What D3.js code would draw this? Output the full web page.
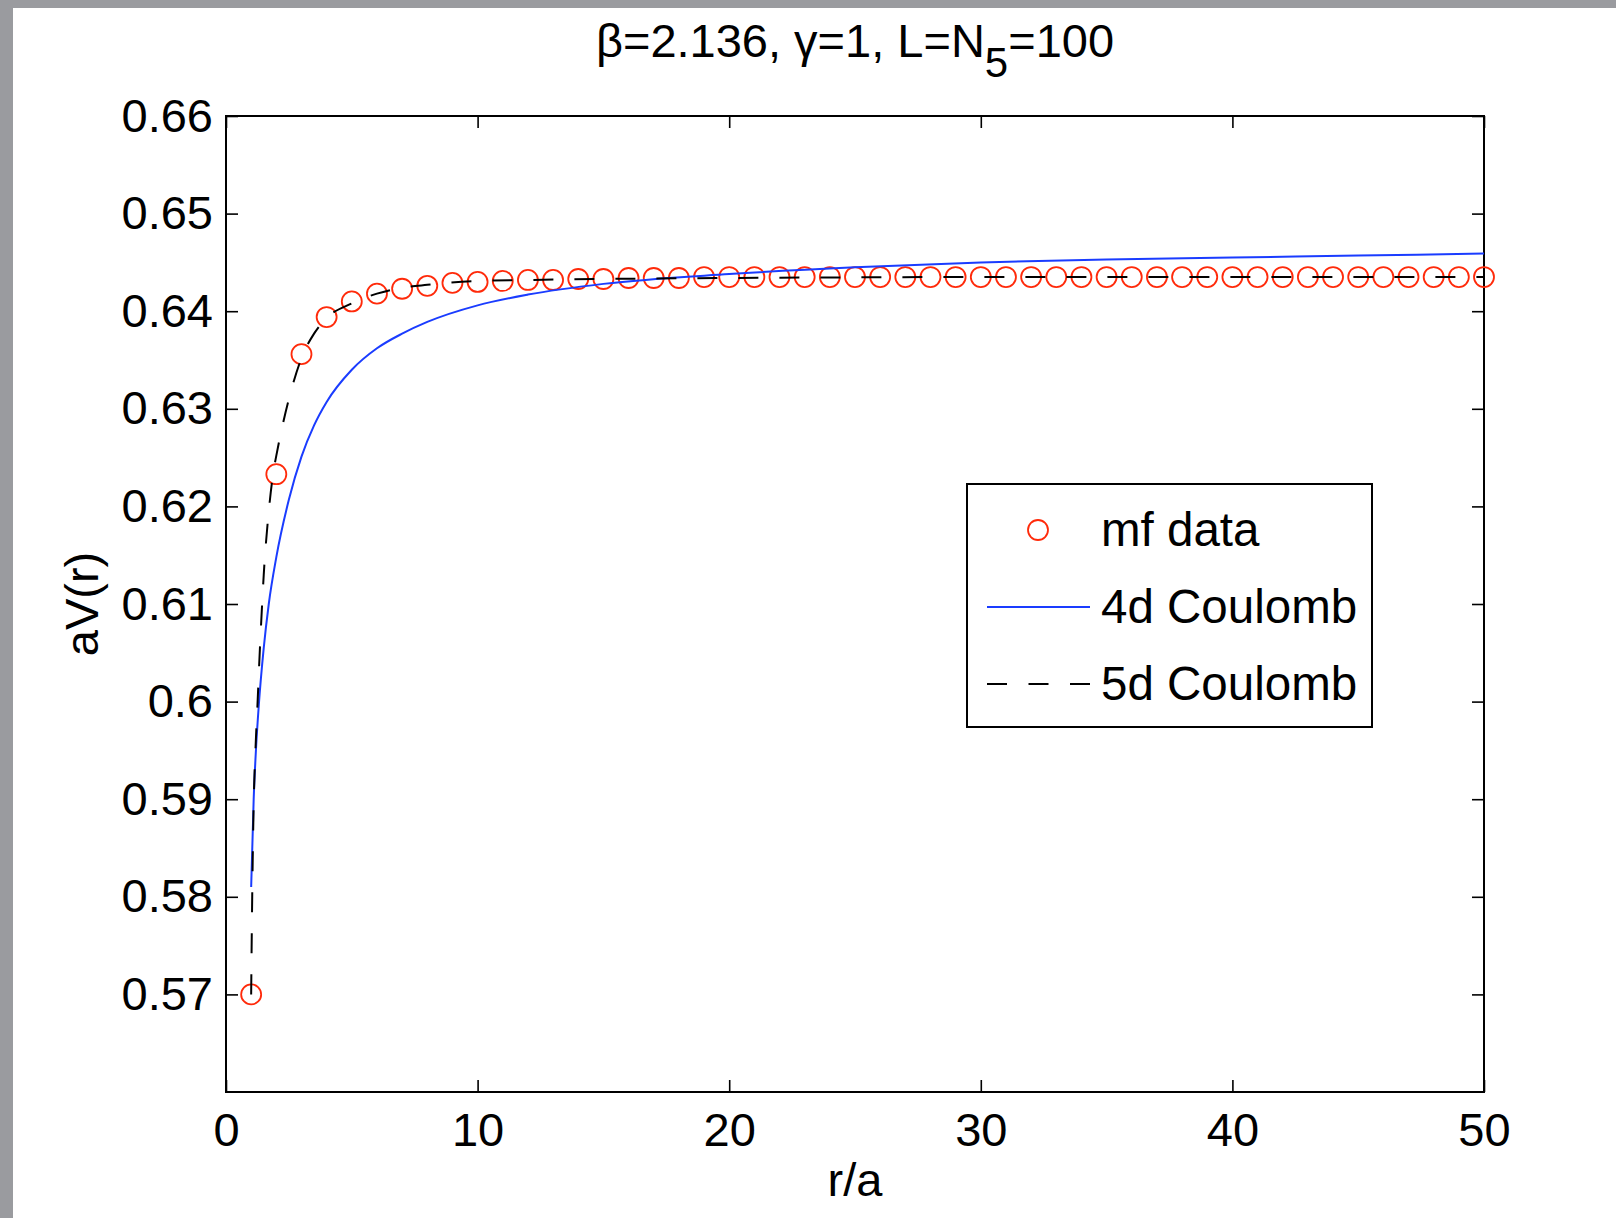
<!DOCTYPE html>
<html>
<head>
<meta charset="utf-8">
<script src="https://cdn.jsdelivr.net/npm/d3@7"></script>
<style>
  html, body { margin: 0; padding: 0; background: #96979b; }
  svg { display: block; }
  text { font-family: "Liberation Sans", Arial, Helvetica, sans-serif; fill: #000; }
</style>
</head>
<body>
<svg id="chart" width="1616" height="1218"></svg>
<script>
// ---------- data ----------
const mfR = d3.range(1, 51);
const mfV = [0.5700, 0.6233, 0.6356, 0.6394, 0.6410, 0.6418, 0.6423, 0.6426, 0.6429, 0.6430,
             0.6431, 0.6432, 0.6432, 0.6433, 0.6433, 0.6434, 0.6434, 0.6434, 0.6435, 0.6435,
             0.6435, 0.6435, 0.6435, 0.6435, 0.6435, 0.6435, 0.6435, 0.6435, 0.6435, 0.6435,
             0.6435, 0.6435, 0.6435, 0.6435, 0.6435, 0.6435, 0.6435, 0.6435, 0.6435, 0.6435,
             0.6435, 0.6435, 0.6435, 0.6435, 0.6435, 0.6435, 0.6435, 0.6435, 0.6435, 0.6435];

const c4R = [1, 1.1, 1.2, 1.3, 1.5, 1.7, 2, 2.5, 3, 3.5, 4, 5, 6, 7, 8, 10, 12, 15, 20, 25, 30, 35, 40, 45, 50];
const c4V = [0.5810, 0.5900, 0.5955, 0.5995, 0.6055, 0.6100, 0.6148, 0.6207, 0.6251, 0.6283, 0.6307,
             0.6340, 0.6362, 0.6377, 0.6389, 0.6406, 0.6417, 0.6428, 0.6438, 0.6445, 0.6450, 0.6453,
             0.6455, 0.6457, 0.6459];

const c5R = [1, 1.03, 1.06, 1.1, 1.17, 1.26, 1.34, 1.42, 1.5, 1.7, 1.9, 2, 2.5, 3, 3.5, 4, 5, 6, 7, 8, 10, 12, 15, 20, 30, 40, 50];
const c5V = [0.5700, 0.5775, 0.5835, 0.5895, 0.5950, 0.6002, 0.6050, 0.6092, 0.6130, 0.6195, 0.6238,
             0.6252, 0.6310, 0.6352, 0.6377, 0.6393, 0.6408, 0.6418, 0.6424, 0.6427, 0.6431, 0.6432,
             0.6433, 0.6434, 0.6435, 0.6435, 0.6435];

const xTicks = [0, 10, 20, 30, 40, 50];
const yTicks = [0.57, 0.58, 0.59, 0.60, 0.61, 0.62, 0.63, 0.64, 0.65, 0.66];
const yTickLabels = ["0.57", "0.58", "0.59", "0.6", "0.61", "0.62", "0.63", "0.64", "0.65", "0.66"];
const legendLabels = ["mf data", "4d Coulomb", "5d Coulomb"];
const titleMain = "β=2.136, γ=1, L=N";
const titleSub = "5";
const titleEnd = "=100";

// ---------- layout ----------
const svg = d3.select("#chart");
const W = 1616, H = 1218;
const plot = { left: 226, right: 1484, top: 116, bottom: 1092 };
const FS = 47;
const RED = "#ff2a0a", BLUE = "#1a3cff";

svg.append("rect").attr("x", 0).attr("y", 0).attr("width", W).attr("height", H).attr("fill", "#9a9b9f");
svg.append("rect").attr("x", 13).attr("y", 8).attr("width", W - 13).attr("height", H - 8).attr("fill", "#ffffff");

const x = d3.scaleLinear().domain([0, 50]).range([plot.left, plot.right]);
const y = d3.scaleLinear().domain([0.56, 0.66]).range([plot.bottom, plot.top]);

// ---------- axes ----------
const gx = svg.append("g").attr("transform", `translate(0,${plot.bottom})`)
  .call(d3.axisBottom(x).tickValues(xTicks).tickSize(-12).tickPadding(21).tickFormat(d3.format("d")));
const gy = svg.append("g").attr("transform", `translate(${plot.left},0)`)
  .call(d3.axisLeft(y).tickValues(yTicks).tickSize(-12).tickPadding(13)
    .tickFormat((d, i) => yTickLabels[i]));
const gxt = svg.append("g").attr("transform", `translate(0,${plot.top})`)
  .call(d3.axisTop(x).tickValues(xTicks).tickSize(-12).tickFormat(""));
const gyr = svg.append("g").attr("transform", `translate(${plot.right},0)`)
  .call(d3.axisRight(y).tickValues(yTicks).tickSize(-12).tickFormat(""));

[gx, gy, gxt, gyr].forEach(g => {
  g.select(".domain").remove();
  g.selectAll(".tick line").attr("stroke", "#000").attr("stroke-width", 1.6);
  g.selectAll(".tick text").attr("font-size", FS).attr("font-family", "Liberation Sans, Arial, sans-serif").attr("fill", "#000");
});

svg.append("rect")
  .attr("x", plot.left).attr("y", plot.top)
  .attr("width", plot.right - plot.left).attr("height", plot.bottom - plot.top)
  .attr("fill", "none").attr("stroke", "#000").attr("stroke-width", 2);

// ---------- data marks ----------
svg.append("g").selectAll("circle").data(mfR).join("circle")
  .attr("cx", d => x(d)).attr("cy", (d, i) => y(mfV[i])).attr("r", 10)
  .attr("fill", "none").attr("stroke", RED).attr("stroke-width", 1.8);

const line = d3.line().x(d => x(d[0])).y(d => y(d[1])).curve(d3.curveMonotoneX);

svg.append("path").datum(c4R.map((r, i) => [r, c4V[i]]))
  .attr("d", line).attr("fill", "none").attr("stroke", BLUE).attr("stroke-width", 2);

svg.append("path").datum(c5R.map((r, i) => [r, c5V[i]]))
  .attr("d", line).attr("fill", "none").attr("stroke", "#000").attr("stroke-width", 2)
  .attr("stroke-dasharray", "20,21");

// ---------- labels ----------
const title = svg.append("text").attr("x", (plot.left + plot.right) / 2).attr("y", 57)
  .attr("text-anchor", "middle").attr("font-size", FS);
title.append("tspan").text(titleMain);
title.append("tspan").attr("dy", 20).attr("font-size", 42).text(titleSub);
title.append("tspan").attr("dy", -20).text(titleEnd);

svg.append("text").attr("x", (plot.left + plot.right) / 2).attr("y", 1196)
  .attr("text-anchor", "middle").attr("font-size", FS).text("r/a");

svg.append("text").attr("transform", `translate(98,${(plot.top + plot.bottom) / 2}) rotate(-90)`)
  .attr("text-anchor", "middle").attr("font-size", FS).text("aV(r)");

// ---------- legend ----------
const lg = { left: 967, top: 484, right: 1372, bottom: 727 };
svg.append("rect").attr("x", lg.left).attr("y", lg.top)
  .attr("width", lg.right - lg.left).attr("height", lg.bottom - lg.top)
  .attr("fill", "#fff").attr("stroke", "#000").attr("stroke-width", 2);
const rowY = [530, 607, 684];
const lineX0 = 987, lineX1 = 1090, textX = 1101;
svg.append("circle").attr("cx", (lineX0 + lineX1) / 2 - 0.5).attr("cy", rowY[0]).attr("r", 10)
  .attr("fill", "none").attr("stroke", RED).attr("stroke-width", 1.8);
svg.append("line").attr("x1", lineX0).attr("x2", lineX1).attr("y1", rowY[1]).attr("y2", rowY[1])
  .attr("stroke", BLUE).attr("stroke-width", 2);
svg.append("line").attr("x1", lineX0).attr("x2", lineX1).attr("y1", rowY[2]).attr("y2", rowY[2])
  .attr("stroke", "#000").attr("stroke-width", 2).attr("stroke-dasharray", "20,21.5");
legendLabels.forEach((t, i) => {
  svg.append("text").attr("x", textX).attr("y", rowY[i] + 16).attr("font-size", 47.5).text(t);
});
</script>
</body>
</html>
